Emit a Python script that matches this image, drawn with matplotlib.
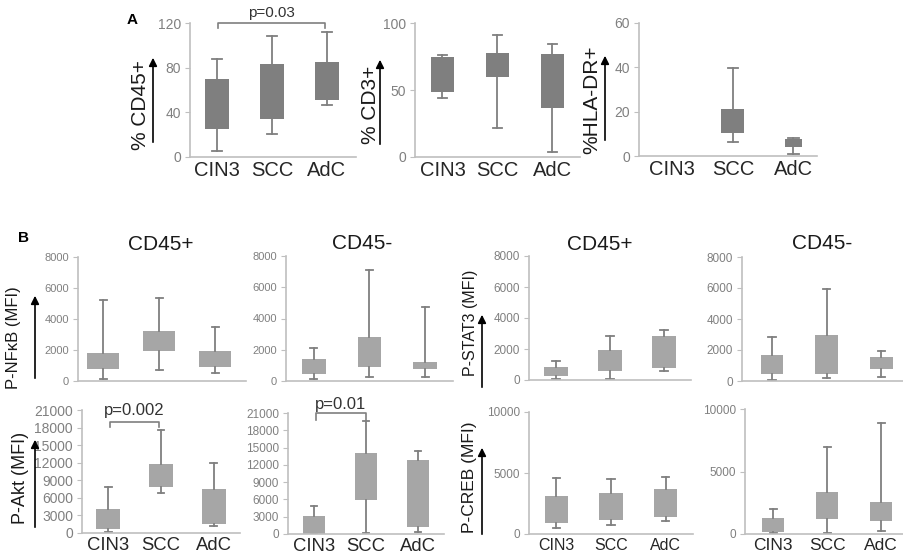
import matplotlib
matplotlib.use("Agg")
import matplotlib.pyplot as plt

plt.rcParams['font.family'] = ['Liberation Sans', 'DejaVu Sans']

W, H = 904, 558
categories = ["CIN3", "SCC", "AdC"]

# ---- data: [whislo, q1, q3, whishi] per category (None = no data) ----
cd45_pct = [[5, 25, 70, 88], [21, 34, 83, 108], [47, 51, 85, 112]]
cd3_pct = [[44, 48.5, 75, 76.4], [22, 59.7, 77.9, 90.8], [4, 36.6, 76.6, 84]]
hladr_pct = [None, [6.4, 10.5, 21, 39.5], [1.0, 3.9, 7.8, 8.0]]

nfkb_pos = [[155, 800, 1830, 5250], [735, 1916, 3226, 5355], [516, 903, 1935, 3484]]
nfkb_neg = [[128, 473, 1389, 2138], [256, 896, 2816, 7130], [256, 749, 1216, 4736]]
stat3_pos = [[65, 284, 830, 1244], [65, 611, 1920, 2836], [610, 764, 2838, 3230]]
stat3_neg = [[90, 432, 1658, 2839], [194, 432, 2948, 5961], [258, 800, 1548, 1916]]
akt_pos = [[171, 633, 4057, 7875], [6848, 7772, 11710, 17583], [1198, 1610, 7430, 11984]]
akt_neg = [[0, 0, 3115, 4846], [100, 5884, 14071, 19610], [288, 1269, 12807, 14365]]
creb_pos = [[515, 924, 3107, 4554], [736, 1145, 3377, 4473], [1063, 1415, 3704, 4685]]
creb_neg = [[100, 184, 1259, 1981], [104, 1203, 3344, 6921], [265, 1067, 2590, 8877]]

ylabels_A = ["% CD45+", "% CD3+", "%HLA-DR+"]
titles_B = ["CD45+", "CD45-", "CD45+", "CD45-"]
ylabels_B = ["P-NF\u03baB (MFI)", "P-Akt (MFI)", "P-STAT3 (MFI)", "P-CREB (MFI)"]
pvals = ["p=0.03", "p=0.002", "p=0.01"]

fig = plt.figure(figsize=(W / 100, H / 100), dpi=100)

def add_ax(x0, x1, y0, y1):
    return fig.add_axes([x0 / W, 1 - y1 / H, (x1 - x0) / W, (y1 - y0) / H])

AXIS_C = "#bfbfbf"
TICK_C = "#808080"

def draw(ax, data, ylim, yticks, xlim, widths, boxc, whc, tick_fs, cat_fs=None, whlw=1.3, capw=None):
    stats, pos, wds = [], [], []
    for i, d in enumerate(data):
        if d is None:
            continue
        lo, q1, q3, hi = d
        stats.append(dict(med=q1, q1=q1, q3=q3, whislo=lo, whishi=hi, fliers=[]))
        pos.append(i)
        wds.append(widths[i])
    ax.bxp(stats, positions=pos, widths=wds, patch_artist=True, showfliers=False,
           boxprops=dict(facecolor=boxc, edgecolor='none', linewidth=0),
           whiskerprops=dict(color=whc, linewidth=whlw),
           capprops=dict(color=whc, linewidth=whlw),
           medianprops=dict(linewidth=0, color=boxc),
           capwidths=[capw] * len(pos) if capw else None,
           manage_ticks=False)
    ax.set_xlim(*xlim)
    ax.set_ylim(*ylim)
    ax.set_yticks(yticks)
    ax.set_yticklabels([str(t) for t in yticks], fontsize=tick_fs, color=TICK_C)
    for s in ["top", "right"]:
        ax.spines[s].set_visible(False)
    for s in ["left", "bottom"]:
        ax.spines[s].set_color(AXIS_C)
        ax.spines[s].set_linewidth(1.2)
    ax.tick_params(axis='y', length=3.5, color=AXIS_C, pad=3)
    ax.tick_params(axis='x', length=0)
    ax.set_xticks(range(3))
    if cat_fs:
        ax.set_xticklabels(categories, fontsize=cat_fs, color="#262626")
        ax.tick_params(axis='x', pad=3)
    else:
        ax.set_xticklabels([])
    ax.patch.set_visible(False)

def ylab(text, x, yc, fs, ax_x, ytop, ybot):
    fig.text(x / W, 1 - yc / H, text, rotation=90, ha='center', va='center', fontsize=fs, color='#1a1a1a')
    fig.add_artist(matplotlib.patches.FancyArrowPatch(
        (ax_x / W, 1 - ybot / H), (ax_x / W, 1 - ytop / H), transform=fig.transFigure,
        arrowstyle='-|>', mutation_scale=12, color='black', lw=1.2))

def bracket(ax, x0, x1, y, ytick0, ytick1, text, ytext, fs):
    ax.plot([x0, x0, x1, x1], [ytick0, y, y, ytick1], color="#7f7f7f", lw=1.2, clip_on=False)
    ax.text((x0 + x1) / 2, ytext, text, ha='center', va='center', fontsize=fs, color="#333333", clip_on=False)

A_BOX = "#7f7f7f"
B_BOX = "#a6a6a6"
B_WH = "#7f7f7f"

# ---- Panel A ----
a1 = add_ax(190, 356, 23, 157)
draw(a1, cd45_pct, (0, 120), [0, 40, 80, 120], (-0.49, 2.53), [0.43] * 3, A_BOX, A_BOX, 10, 14.5, capw=0.17)
bracket(a1, 0.02, 1.97, 120.3, 115.5, 115.5, pvals[0], 129, 11)
a2 = add_ax(415, 580, 23, 157)
draw(a2, cd3_pct, (0, 100), [0, 50, 100], (-0.5, 2.5), [0.43] * 3, A_BOX, A_BOX, 10, 14.5, capw=0.17)
a3 = add_ax(639, 817, 23, 156)
draw(a3, hladr_pct, (0, 60), [0, 20, 40, 60], (-0.55, 2.39), [0.38, 0.38, 0.27], A_BOX, A_BOX, 10, 14.5, capw=0.17)
ylab(ylabels_A[0], 141, 105, 15, 153, 55, 145)
ylab(ylabels_A[1], 370, 105, 15, 380, 57, 147)
ylab(ylabels_A[2], 592, 100, 15, 605, 53, 143)
fig.text(132 / W, 1 - 20.5 / H, "A", fontsize=11, fontweight='bold', ha='center', va='center')

# ---- Panel B row 1 ----
t8 = [0, 2000, 4000, 6000, 8000]
b1 = add_ax(78, 246, 257, 381)
draw(b1, nfkb_pos, (0, 8000), t8, (-0.45, 2.55), [0.57] * 3, B_BOX, B_WH, 8, capw=0.13)
b2 = add_ax(286, 453, 256, 381)
draw(b2, nfkb_neg, (0, 8000), t8, (-0.5, 2.5), [0.42] * 3, B_BOX, B_WH, 8, capw=0.13)
b3 = add_ax(529, 691, 256, 380)
draw(b3, stat3_pos, (0, 8000), t8, (-0.5, 2.5), [0.43] * 3, B_BOX, B_WH, 8.5, capw=0.13)
b4 = add_ax(742, 904, 257, 381)
draw(b4, stat3_neg, (0, 8000), t8, (-0.55, 2.42), [0.42] * 3, B_BOX, B_WH, 8.5, capw=0.13)

fig.text(161 / W, 1 - 244 / H, titles_B[0], fontsize=15, ha='center', va='center', color='#1a1a1a')
fig.text(362 / W, 1 - 243 / H, titles_B[1], fontsize=15, ha='center', va='center', color='#1a1a1a')
fig.text(600 / W, 1 - 244 / H, titles_B[2], fontsize=15, ha='center', va='center', color='#1a1a1a')
fig.text(822 / W, 1 - 243 / H, titles_B[3], fontsize=15, ha='center', va='center', color='#1a1a1a')
fig.text(24 / W, 1 - 238 / H, "B", fontsize=11, fontweight='bold', ha='center', va='center')

# ---- Panel B row 2 ----
t21 = [0, 3000, 6000, 9000, 12000, 15000, 18000, 21000]
t10 = [0, 5000, 10000]
b5 = add_ax(82, 240, 410, 533)
draw(b5, akt_pos, (0, 21000), t21, (-0.5, 2.5), [0.45] * 3, B_BOX, B_WH, 10, 13.3, capw=0.13)
bracket(b5, 0.03, 0.97, 18900, 18045, 18045, pvals[1], 20900, 12)
b6 = add_ax(288, 444, 413, 534)
draw(b6, akt_neg, (0, 21000), t21, (-0.5, 2.5), [0.42] * 3, B_BOX, B_WH, 8.5, 13.3, capw=0.13)
bracket(b6, 0.03, 1.0, 20993, 19730, 19730, pvals[2], 22500, 12)
b7 = add_ax(529, 693, 412, 534)
draw(b7, creb_pos, (0, 10000), t10, (-0.5, 2.5), [0.43] * 3, B_BOX, B_WH, 8.5, 11.5, capw=0.13)
b8 = add_ax(745, 904, 409, 534)
draw(b8, creb_neg, (0, 10000), t10, (-0.52, 2.42), [0.41] * 3, B_BOX, B_WH, 8.5, 12.5, capw=0.13)

ylab(ylabels_B[0], 14, 338, 12, 35, 293, 381)
ylab(ylabels_B[1], 21, 478, 13, 35, 437, 530)
ylab(ylabels_B[2], 471, 323, 11.5, 482, 312, 390)
ylab(ylabels_B[3], 470, 477, 12.5, 482, 445, 537)

fig.savefig("out.png", dpi=100)
